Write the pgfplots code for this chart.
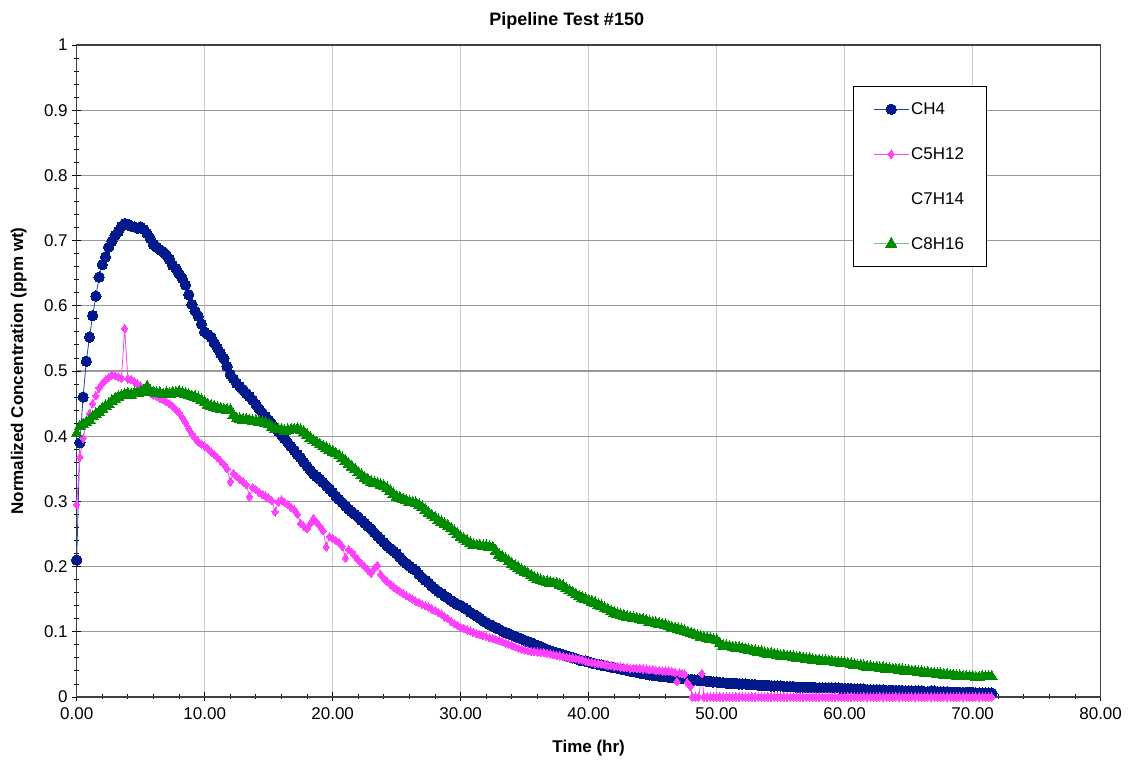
\documentclass[border=0pt]{standalone}
\usepackage{pgfplots}
\usepackage{pgfplotstable}
\usepackage{fontspec}
\setmainfont{Liberation Sans}
\pgfplotsset{compat=1.18}
\definecolor{chblue}{RGB}{0,26,140}
\definecolor{chline}{RGB}{40,60,170}
\definecolor{cpink}{RGB}{255,64,255}
\definecolor{cgreen}{RGB}{0,140,0}
\definecolor{cgreenline}{RGB}{110,200,140}

\pgfplotstableread[row sep=\\]{t v\\
0 0.21\\ 0.25 0.39\\ 0.5 0.46\\ 0.75 0.515\\ 1.0 0.552\\ 1.25 0.585\\ 1.5 0.615\\ 1.75 0.644\\
2.0 0.663\\ 2.25 0.675\\ 2.5 0.69\\ 2.75 0.699\\ 3.0 0.708\\ 3.25 0.714\\ 3.5 0.722\\ 3.75 0.726\\
4.0 0.725\\ 4.25 0.722\\ 4.5 0.721\\ 4.75 0.719\\ 5.0 0.721\\ 5.25 0.717\\ 5.5 0.711\\ 5.75 0.703\\
6.0 0.694\\ 6.25 0.69\\ 6.5 0.686\\ 6.75 0.683\\ 7.0 0.678\\ 7.25 0.671\\ 7.5 0.662\\ 7.75 0.657\\
8.0 0.649\\ 8.25 0.642\\ 8.5 0.632\\ 8.75 0.617\\ 9.0 0.602\\ 9.25 0.592\\ 9.5 0.584\\ 9.75 0.572\\
10.0 0.56\\ 10.25 0.556\\ 10.5 0.552\\ 10.75 0.543\\ 11.0 0.535\\ 11.25 0.527\\ 11.5 0.519\\ 11.75 0.507\\
12.0 0.495\\ 12.25 0.488\\ 12.5 0.481\\ 12.75 0.476\\ 13.0 0.471\\ 13.25 0.466\\ 13.5 0.461\\ 13.75 0.455\\
14.0 0.449\\ 14.25 0.442\\ 14.5 0.436\\ 14.75 0.43\\ 15.0 0.425\\ 15.25 0.419\\ 15.5 0.413\\ 15.75 0.407\\
16.0 0.402\\ 16.25 0.396\\ 16.5 0.39\\ 16.75 0.384\\ 17.0 0.378\\ 17.25 0.372\\ 17.5 0.367\\ 17.75 0.36\\
18.0 0.354\\ 18.25 0.348\\ 18.5 0.342\\ 18.75 0.338\\ 19.0 0.334\\ 19.25 0.329\\ 19.5 0.324\\ 19.75 0.319\\
20.0 0.314\\ 20.25 0.308\\ 20.5 0.303\\ 20.75 0.298\\ 21.0 0.293\\ 21.25 0.288\\ 21.5 0.284\\ 21.75 0.28\\
22.0 0.276\\ 22.25 0.271\\ 22.5 0.267\\ 22.75 0.262\\ 23.0 0.258\\ 23.25 0.252\\ 23.5 0.247\\ 23.75 0.242\\
24.0 0.237\\ 24.25 0.232\\ 24.5 0.228\\ 24.75 0.224\\ 25.0 0.22\\ 25.25 0.214\\ 25.5 0.209\\ 25.75 0.205\\
26.0 0.201\\ 26.25 0.197\\ 26.5 0.194\\ 26.75 0.188\\ 27.0 0.183\\ 27.25 0.179\\ 27.5 0.175\\ 27.75 0.17\\
28.0 0.166\\ 28.25 0.162\\ 28.5 0.159\\ 28.75 0.155\\ 29.0 0.152\\ 29.25 0.148\\ 29.5 0.145\\ 29.75 0.142\\
30.0 0.14\\ 30.25 0.137\\ 30.5 0.134\\ 30.75 0.13\\ 31.0 0.127\\ 31.25 0.124\\ 31.5 0.121\\ 31.75 0.117\\
32.0 0.114\\ 32.25 0.111\\ 32.5 0.109\\ 32.75 0.106\\ 33.0 0.104\\ 33.25 0.101\\ 33.5 0.099\\ 33.75 0.097\\
34.0 0.095\\ 34.25 0.093\\ 34.5 0.091\\ 34.75 0.089\\ 35.0 0.087\\ 35.25 0.085\\ 35.5 0.083\\ 35.75 0.081\\
36.0 0.079\\ 36.25 0.077\\ 36.5 0.075\\ 36.75 0.073\\ 37.0 0.071\\ 37.25 0.069\\ 37.5 0.068\\ 37.75 0.066\\
38.0 0.065\\ 38.25 0.063\\ 38.5 0.062\\ 38.75 0.06\\ 39.0 0.059\\ 39.25 0.057\\ 39.5 0.056\\ 39.75 0.055\\
40.0 0.054\\ 40.25 0.052\\ 40.5 0.051\\ 40.75 0.05\\ 41.0 0.049\\ 41.25 0.048\\ 41.5 0.047\\ 41.75 0.046\\
42.0 0.045\\ 42.25 0.044\\ 42.5 0.043\\ 42.75 0.042\\ 43.0 0.041\\ 43.25 0.04\\ 43.5 0.039\\ 43.75 0.038\\
44.0 0.037\\ 44.25 0.036\\ 44.5 0.035\\ 44.75 0.034\\ 45.0 0.033\\ 45.25 0.033\\ 45.5 0.032\\ 45.75 0.031\\
46.0 0.031\\ 46.25 0.03\\ 46.5 0.030\\ 46.75 0.029\\ 47.0 0.029\\ 47.25 0.028\\ 47.5 0.028\\ 47.75 0.027\\
48.0 0.027\\ 48.25 0.026\\ 48.5 0.026\\ 48.75 0.025\\ 49.0 0.025\\ 49.25 0.024\\ 49.5 0.024\\ 49.75 0.023\\
50.0 0.023\\ 50.25 0.022\\ 50.5 0.022\\ 50.75 0.021\\ 51.0 0.021\\ 51.25 0.021\\ 51.5 0.021\\ 51.75 0.020\\
52.0 0.020\\ 52.25 0.020\\ 52.5 0.019\\ 52.75 0.019\\ 53.0 0.019\\ 53.25 0.018\\ 53.5 0.018\\ 53.75 0.018\\
54.0 0.018\\ 54.25 0.017\\ 54.5 0.017\\ 54.75 0.017\\ 55.0 0.017\\ 55.25 0.016\\ 55.5 0.016\\ 55.75 0.016\\
56.0 0.016\\ 56.25 0.015\\ 56.5 0.015\\ 56.75 0.015\\ 57.0 0.015\\ 57.25 0.015\\ 57.5 0.015\\ 57.75 0.014\\
58.0 0.014\\ 58.25 0.014\\ 58.5 0.014\\ 58.75 0.014\\ 59.0 0.014\\ 59.25 0.014\\ 59.5 0.014\\ 59.75 0.013\\
60.0 0.013\\ 60.25 0.013\\ 60.5 0.013\\ 60.75 0.012\\ 61.0 0.012\\ 61.25 0.012\\ 61.5 0.012\\ 61.75 0.011\\
62.0 0.011\\ 62.25 0.011\\ 62.5 0.011\\ 62.75 0.011\\ 63.0 0.011\\ 63.25 0.010\\ 63.5 0.010\\ 63.75 0.010\\
64.0 0.010\\ 64.25 0.010\\ 64.5 0.010\\ 64.75 0.009\\ 65.0 0.009\\ 65.25 0.009\\ 65.5 0.009\\ 65.75 0.009\\
66.0 0.009\\ 66.25 0.008\\ 66.5 0.008\\ 66.75 0.009\\ 67.0 0.009\\ 67.25 0.008\\ 67.5 0.008\\ 67.75 0.008\\
68.0 0.008\\ 68.25 0.007\\ 68.5 0.007\\ 68.75 0.007\\ 69.0 0.007\\ 69.25 0.007\\ 69.5 0.007\\ 69.75 0.007\\
70.0 0.007\\ 70.25 0.006\\ 70.5 0.006\\ 70.75 0.006\\ 71.0 0.006\\ 71.25 0.006\\ 71.5 0.006\\
}\chfour

\pgfplotstableread[row sep=\\]{t v\\
0 0.295\\ 0.25 0.368\\ 0.5 0.397\\ 0.75 0.42\\ 1.0 0.435\\ 1.25 0.45\\ 1.5 0.462\\ 1.75 0.474\\
2.0 0.481\\ 2.25 0.486\\ 2.5 0.49\\ 2.75 0.494\\ 3.0 0.493\\ 3.25 0.491\\ 3.5 0.489\\ 3.75 0.565\\
4.0 0.488\\ 4.25 0.487\\ 4.5 0.484\\ 4.75 0.48\\ 5.0 0.477\\ 5.25 0.473\\ 5.5 0.469\\ 5.75 0.466\\
6.0 0.463\\ 6.25 0.461\\ 6.5 0.458\\ 6.75 0.456\\ 7.0 0.453\\ 7.25 0.45\\ 7.5 0.446\\ 7.75 0.441\\
8.0 0.436\\ 8.25 0.429\\ 8.5 0.421\\ 8.75 0.412\\ 9.0 0.404\\ 9.25 0.397\\ 9.5 0.391\\ 9.75 0.388\\
10.0 0.385\\ 10.25 0.381\\ 10.5 0.376\\ 10.75 0.372\\ 11.0 0.367\\ 11.25 0.362\\ 11.5 0.357\\ 11.75 0.350\\
12.0 0.330\\ 12.25 0.343\\ 12.5 0.338\\ 12.75 0.334\\ 13.0 0.330\\ 13.25 0.326\\ 13.5 0.307\\ 13.75 0.321\\
14.0 0.318\\ 14.25 0.314\\ 14.5 0.311\\ 14.75 0.308\\ 15.0 0.305\\ 15.25 0.301\\ 15.5 0.284\\ 15.75 0.299\\
16.0 0.302\\ 16.25 0.298\\ 16.5 0.295\\ 16.75 0.291\\ 17.0 0.287\\ 17.25 0.28\\ 17.5 0.266\\ 17.75 0.262\\
18.0 0.258\\ 18.25 0.266\\ 18.5 0.274\\ 18.75 0.268\\ 19.0 0.262\\ 19.25 0.255\\ 19.5 0.23\\ 19.75 0.246\\
20.0 0.243\\ 20.25 0.24\\ 20.5 0.237\\ 20.75 0.231\\ 21.0 0.213\\ 21.25 0.226\\ 21.5 0.222\\ 21.75 0.216\\
22.0 0.21\\ 22.25 0.205\\ 22.5 0.2\\ 22.75 0.195\\ 23.0 0.19\\ 23.25 0.197\\ 23.5 0.202\\ 23.75 0.188\\
24.0 0.182\\ 24.25 0.177\\ 24.5 0.173\\ 24.75 0.169\\ 25.0 0.165\\ 25.25 0.162\\ 25.5 0.159\\ 25.75 0.156\\
26.0 0.153\\ 26.25 0.15\\ 26.5 0.147\\ 26.75 0.145\\ 27.0 0.142\\ 27.25 0.14\\ 27.5 0.138\\ 27.75 0.135\\
28.0 0.133\\ 28.25 0.13\\ 28.5 0.127\\ 28.75 0.123\\ 29.0 0.12\\ 29.25 0.116\\ 29.5 0.113\\ 29.75 0.11\\
30.0 0.107\\ 30.25 0.105\\ 30.5 0.103\\ 30.75 0.101\\ 31.0 0.099\\ 31.25 0.097\\ 31.5 0.096\\ 31.75 0.094\\
32.0 0.093\\ 32.25 0.091\\ 32.5 0.090\\ 32.75 0.088\\ 33.0 0.087\\ 33.25 0.085\\ 33.5 0.083\\ 33.75 0.081\\
34.0 0.079\\ 34.25 0.077\\ 34.5 0.075\\ 34.75 0.073\\ 35.0 0.072\\ 35.25 0.071\\ 35.5 0.070\\ 35.75 0.070\\
36.0 0.069\\ 36.25 0.068\\ 36.5 0.068\\ 36.75 0.067\\ 37.0 0.066\\ 37.25 0.065\\ 37.5 0.064\\ 37.75 0.063\\
38.0 0.062\\ 38.25 0.061\\ 38.5 0.060\\ 38.75 0.060\\ 39.0 0.059\\ 39.25 0.058\\ 39.5 0.057\\ 39.75 0.055\\
40.0 0.054\\ 40.25 0.053\\ 40.5 0.052\\ 40.75 0.051\\ 41.0 0.050\\ 41.25 0.050\\ 41.5 0.049\\ 41.75 0.048\\
42.0 0.047\\ 42.25 0.047\\ 42.5 0.046\\ 42.75 0.045\\ 43.0 0.045\\ 43.25 0.044\\ 43.5 0.044\\ 43.75 0.044\\
44.0 0.044\\ 44.25 0.043\\ 44.5 0.043\\ 44.75 0.042\\ 45.0 0.042\\ 45.25 0.041\\ 45.5 0.041\\ 45.75 0.040\\
46.0 0.040\\ 46.25 0.040\\ 46.5 0.039\\ 46.75 0.038\\ 46.9 0.0235\\ 47.1 0.037\\ 47.3 0.036\\ 47.5 0.035\\
47.7 0.022\\ 47.95 0.016\\ 48.1 0\\ 48.35 0\\ 48.6 0\\ 48.85 0.036\\ 49.0 0\\ 49.25 0\\
49.5 0\\ 49.75 0\\ 50.0 0\\ 50.25 0\\ 50.5 0\\ 50.75 0\\ 51.0 0\\ 51.25 0\\ 51.5 0\\ 51.75 0\\
52.0 0\\ 52.25 0\\ 52.5 0\\ 52.75 0\\ 53.0 0\\ 53.25 0\\ 53.5 0\\ 53.75 0\\ 54.0 0\\ 54.25 0\\
54.5 0\\ 54.75 0\\ 55.0 0\\ 55.25 0\\ 55.5 0\\ 55.75 0\\ 56.0 0\\ 56.25 0\\ 56.5 0\\ 56.75 0\\
57.0 0\\ 57.25 0\\ 57.5 0\\ 57.75 0\\ 58.0 0\\ 58.25 0\\ 58.5 0\\ 58.75 0\\ 59.0 0\\ 59.25 0\\
59.5 0\\ 59.75 0\\ 60.0 0\\ 60.25 0\\ 60.5 0\\ 60.75 0\\ 61.0 0\\ 61.25 0\\ 61.5 0\\ 61.75 0\\
62.0 0\\ 62.25 0\\ 62.5 0\\ 62.75 0\\ 63.0 0\\ 63.25 0\\ 63.5 0\\ 63.75 0\\ 64.0 0\\ 64.25 0\\
64.5 0\\ 64.75 0\\ 65.0 0\\ 65.25 0\\ 65.5 0\\ 65.75 0\\ 66.0 0\\ 66.25 0\\ 66.5 0\\ 66.75 0\\
67.0 0\\ 67.25 0\\ 67.5 0\\ 67.75 0\\ 68.0 0\\ 68.25 0\\ 68.5 0\\ 68.75 0\\ 69.0 0\\ 69.25 0\\
69.5 0\\ 69.75 0\\ 70.0 0\\ 70.25 0\\ 70.5 0\\ 70.75 0\\ 71.0 0\\ 71.25 0\\ 71.5 0\\
}\cfive

\pgfplotstableread[row sep=\\]{t v\\
0 0.404\\ 0.25 0.415\\ 0.5 0.418\\ 0.75 0.421\\ 1.0 0.425\\ 1.25 0.43\\ 1.5 0.434\\ 1.75 0.437\\
2.0 0.442\\ 2.25 0.446\\ 2.5 0.449\\ 2.75 0.454\\ 3.0 0.457\\ 3.25 0.46\\ 3.5 0.462\\ 3.75 0.464\\
4.0 0.465\\ 4.25 0.463\\ 4.5 0.466\\ 4.75 0.466\\ 5.0 0.468\\ 5.25 0.47\\ 5.5 0.476\\ 5.75 0.469\\
6.0 0.467\\ 6.25 0.466\\ 6.5 0.466\\ 6.75 0.464\\ 7.0 0.466\\ 7.25 0.465\\ 7.5 0.467\\ 7.75 0.466\\
8.0 0.468\\ 8.25 0.466\\ 8.5 0.465\\ 8.75 0.463\\ 9.0 0.461\\ 9.25 0.46\\ 9.5 0.458\\ 9.75 0.455\\
10.0 0.452\\ 10.25 0.448\\ 10.5 0.446\\ 10.75 0.445\\ 11.0 0.443\\ 11.25 0.442\\ 11.5 0.441\\ 11.75 0.44\\
12.0 0.44\\ 12.25 0.432\\ 12.5 0.427\\ 12.75 0.426\\ 13.0 0.425\\ 13.25 0.425\\ 13.5 0.424\\ 13.75 0.423\\
14.0 0.423\\ 14.25 0.422\\ 14.5 0.421\\ 14.75 0.42\\ 15.0 0.418\\ 15.25 0.414\\ 15.5 0.411\\ 15.75 0.41\\
16.0 0.41\\ 16.25 0.408\\ 16.5 0.409\\ 16.75 0.41\\ 17.0 0.41\\ 17.25 0.411\\ 17.5 0.409\\ 17.75 0.406\\
18.0 0.402\\ 18.25 0.397\\ 18.5 0.393\\ 18.75 0.39\\ 19.0 0.387\\ 19.25 0.384\\ 19.5 0.382\\ 19.75 0.379\\
20.0 0.376\\ 20.25 0.373\\ 20.5 0.37\\ 20.75 0.366\\ 21.0 0.362\\ 21.25 0.357\\ 21.5 0.353\\ 21.75 0.349\\
22.0 0.344\\ 22.25 0.34\\ 22.5 0.336\\ 22.75 0.333\\ 23.0 0.33\\ 23.25 0.328\\ 23.5 0.327\\ 23.75 0.325\\
24.0 0.323\\ 24.25 0.32\\ 24.5 0.316\\ 24.75 0.311\\ 25.0 0.307\\ 25.25 0.305\\ 25.5 0.303\\ 25.75 0.301\\
26.0 0.299\\ 26.25 0.298\\ 26.5 0.297\\ 26.75 0.294\\ 27.0 0.291\\ 27.25 0.287\\ 27.5 0.282\\ 27.75 0.278\\
28.0 0.275\\ 28.25 0.271\\ 28.5 0.268\\ 28.75 0.265\\ 29.0 0.262\\ 29.25 0.258\\ 29.5 0.254\\ 29.75 0.25\\
30.0 0.245\\ 30.25 0.242\\ 30.5 0.239\\ 30.75 0.236\\ 31.0 0.233\\ 31.25 0.232\\ 31.5 0.232\\ 31.75 0.231\\
32.0 0.231\\ 32.25 0.23\\ 32.5 0.229\\ 32.75 0.224\\ 33.0 0.218\\ 33.25 0.215\\ 33.5 0.212\\ 33.75 0.208\\
34.0 0.204\\ 34.25 0.201\\ 34.5 0.198\\ 34.75 0.195\\ 35.0 0.192\\ 35.25 0.189\\ 35.5 0.186\\ 35.75 0.183\\
36.0 0.181\\ 36.25 0.179\\ 36.5 0.177\\ 36.75 0.176\\ 37.0 0.175\\ 37.25 0.174\\ 37.5 0.174\\ 37.75 0.172\\
38.0 0.17\\ 38.25 0.166\\ 38.5 0.163\\ 38.75 0.16\\ 39.0 0.157\\ 39.25 0.154\\ 39.5 0.152\\ 39.75 0.15\\
40.0 0.148\\ 40.25 0.146\\ 40.5 0.144\\ 40.75 0.141\\ 41.0 0.139\\ 41.25 0.136\\ 41.5 0.134\\ 41.75 0.131\\
42.0 0.129\\ 42.25 0.127\\ 42.5 0.126\\ 42.75 0.124\\ 43.0 0.123\\ 43.25 0.122\\ 43.5 0.121\\ 43.75 0.12\\
44.0 0.119\\ 44.25 0.118\\ 44.5 0.117\\ 44.75 0.115\\ 45.0 0.114\\ 45.25 0.113\\ 45.5 0.112\\ 45.75 0.111\\
46.0 0.110\\ 46.25 0.108\\ 46.5 0.106\\ 46.75 0.105\\ 47.0 0.104\\ 47.25 0.103\\ 47.5 0.101\\ 47.75 0.099\\
48.0 0.097\\ 48.25 0.096\\ 48.5 0.094\\ 48.75 0.092\\ 49.0 0.091\\ 49.25 0.09\\ 49.5 0.089\\ 49.75 0.088\\
50.0 0.087\\ 50.25 0.082\\ 50.5 0.078\\ 50.75 0.078\\ 51.0 0.077\\ 51.25 0.076\\ 51.5 0.075\\ 51.75 0.075\\
52.0 0.074\\ 52.25 0.073\\ 52.5 0.072\\ 52.75 0.071\\ 53.0 0.070\\ 53.25 0.069\\ 53.5 0.069\\ 53.75 0.067\\
54.0 0.066\\ 54.25 0.066\\ 54.5 0.065\\ 54.75 0.064\\ 55.0 0.063\\ 55.25 0.063\\ 55.5 0.062\\ 55.75 0.062\\
56.0 0.061\\ 56.25 0.060\\ 56.5 0.060\\ 56.75 0.059\\ 57.0 0.058\\ 57.25 0.058\\ 57.5 0.057\\ 57.75 0.056\\
58.0 0.056\\ 58.25 0.055\\ 58.5 0.055\\ 58.75 0.054\\ 59.0 0.054\\ 59.25 0.053\\ 59.5 0.053\\ 59.75 0.052\\
60.0 0.052\\ 60.25 0.051\\ 60.5 0.050\\ 60.75 0.049\\ 61.0 0.048\\ 61.25 0.048\\ 61.5 0.047\\ 61.75 0.046\\
62.0 0.046\\ 62.25 0.045\\ 62.5 0.045\\ 62.75 0.044\\ 63.0 0.044\\ 63.25 0.043\\ 63.5 0.043\\ 63.75 0.042\\
64.0 0.042\\ 64.25 0.041\\ 64.5 0.041\\ 64.75 0.040\\ 65.0 0.040\\ 65.25 0.039\\ 65.5 0.039\\ 65.75 0.038\\
66.0 0.038\\ 66.25 0.037\\ 66.5 0.037\\ 66.75 0.036\\ 67.0 0.036\\ 67.25 0.035\\ 67.5 0.035\\ 67.75 0.034\\
68.0 0.034\\ 68.25 0.033\\ 68.5 0.033\\ 68.75 0.032\\ 69.0 0.032\\ 69.25 0.031\\ 69.5 0.031\\ 69.75 0.031\\
70.0 0.031\\ 70.25 0.030\\ 70.5 0.030\\ 70.75 0.031\\ 71.0 0.031\\ 71.25 0.031\\ 71.5 0.031\\
}\ceight

\begin{document}
\begin{tikzpicture}
\useasboundingbox (-76.7pt,-68pt) rectangle (1053.3pt,697pt);
\begin{axis}[
  scale only axis,
  width=1024pt, height=652pt,
  xmin=0, xmax=80, ymin=0, ymax=1,
  xtick={0,10,20,30,40,50,60,70,80},
  ytick={0,0.1,0.2,0.3,0.4,0.5,0.6,0.7,0.8,0.9,1},
  minor x tick num=4,
  minor y tick num=4,
  tick pos=left,
  tick align=center,
  major tick length=9pt,
  minor tick length=5pt,
  every tick/.style={black, line width=0.9pt},
  axis line style={draw=black!75, line width=1.3pt},
  grid=major,
  every axis x grid/.style={draw=black!20, line width=1.2pt},
  every axis y grid/.style={draw=black!40, line width=1.2pt},
  /pgf/number format/assume math mode=true,
  xticklabel style={/pgf/number format/fixed, /pgf/number format/fixed zerofill, /pgf/number format/precision=2, yshift=-3pt},
  yticklabel style={/pgf/number format/fixed, /pgf/number format/precision=1, xshift=-1pt},
  tick label style={font=\fontsize{17}{20}\selectfont},
  title={Pipeline Test \#150},
  title style={font=\fontsize{18}{21}\selectfont\bfseries, at={(rel axis cs:0.5,1)}, anchor=center, yshift=18pt, xshift=-22pt},
  xlabel={Time (hr)},
  ylabel={Normalized Concentration (ppm wt)},
  label style={font=\fontsize{17}{20}\selectfont\bfseries},
  xlabel style={at={(rel axis cs:0.5,0)}, anchor=center, yshift=-51pt},
  ylabel style={at={(rel axis cs:0,0.5)}, anchor=center, yshift=58pt},
  legend style={at={(rel axis cs:0.758,0.937)}, anchor=north west, draw=black, line width=1pt,
    font=\fontsize{17}{20}\selectfont, inner xsep=20pt, inner ysep=14pt, row sep=27.5pt,
    cells={anchor=west}},
  legend cell align=left,
  legend image code/.code={\draw[mark repeat=2,mark phase=2] plot coordinates {(0pt,0pt) (17.5pt,0pt) (35pt,0pt)};},
  clip=false,
]
\addplot[color=chline, line width=0.8pt, mark=*, mark size=5.2pt, mark options={fill=chblue, draw=chblue, line width=0pt}] table[x=t,y=v] {\chfour};
\addlegendentry{CH4}
\addplot[color=cpink, line width=0.8pt, mark=diamond*, mark size=4.2pt, mark options={fill=cpink, draw=cpink, line width=0pt}] table[x=t,y=v] {\cfive};
\addlegendentry{C5H12}
\addlegendimage{empty legend}
\addlegendentry{C7H14}
\addplot[color=cgreenline, line width=0.8pt, mark=triangle*, mark size=6.4pt, mark options={fill=cgreen, draw=cgreen, line width=0pt}] table[x=t,y=v] {\ceight};
\addlegendentry{C8H16}
\end{axis}
\end{tikzpicture}
\end{document}
